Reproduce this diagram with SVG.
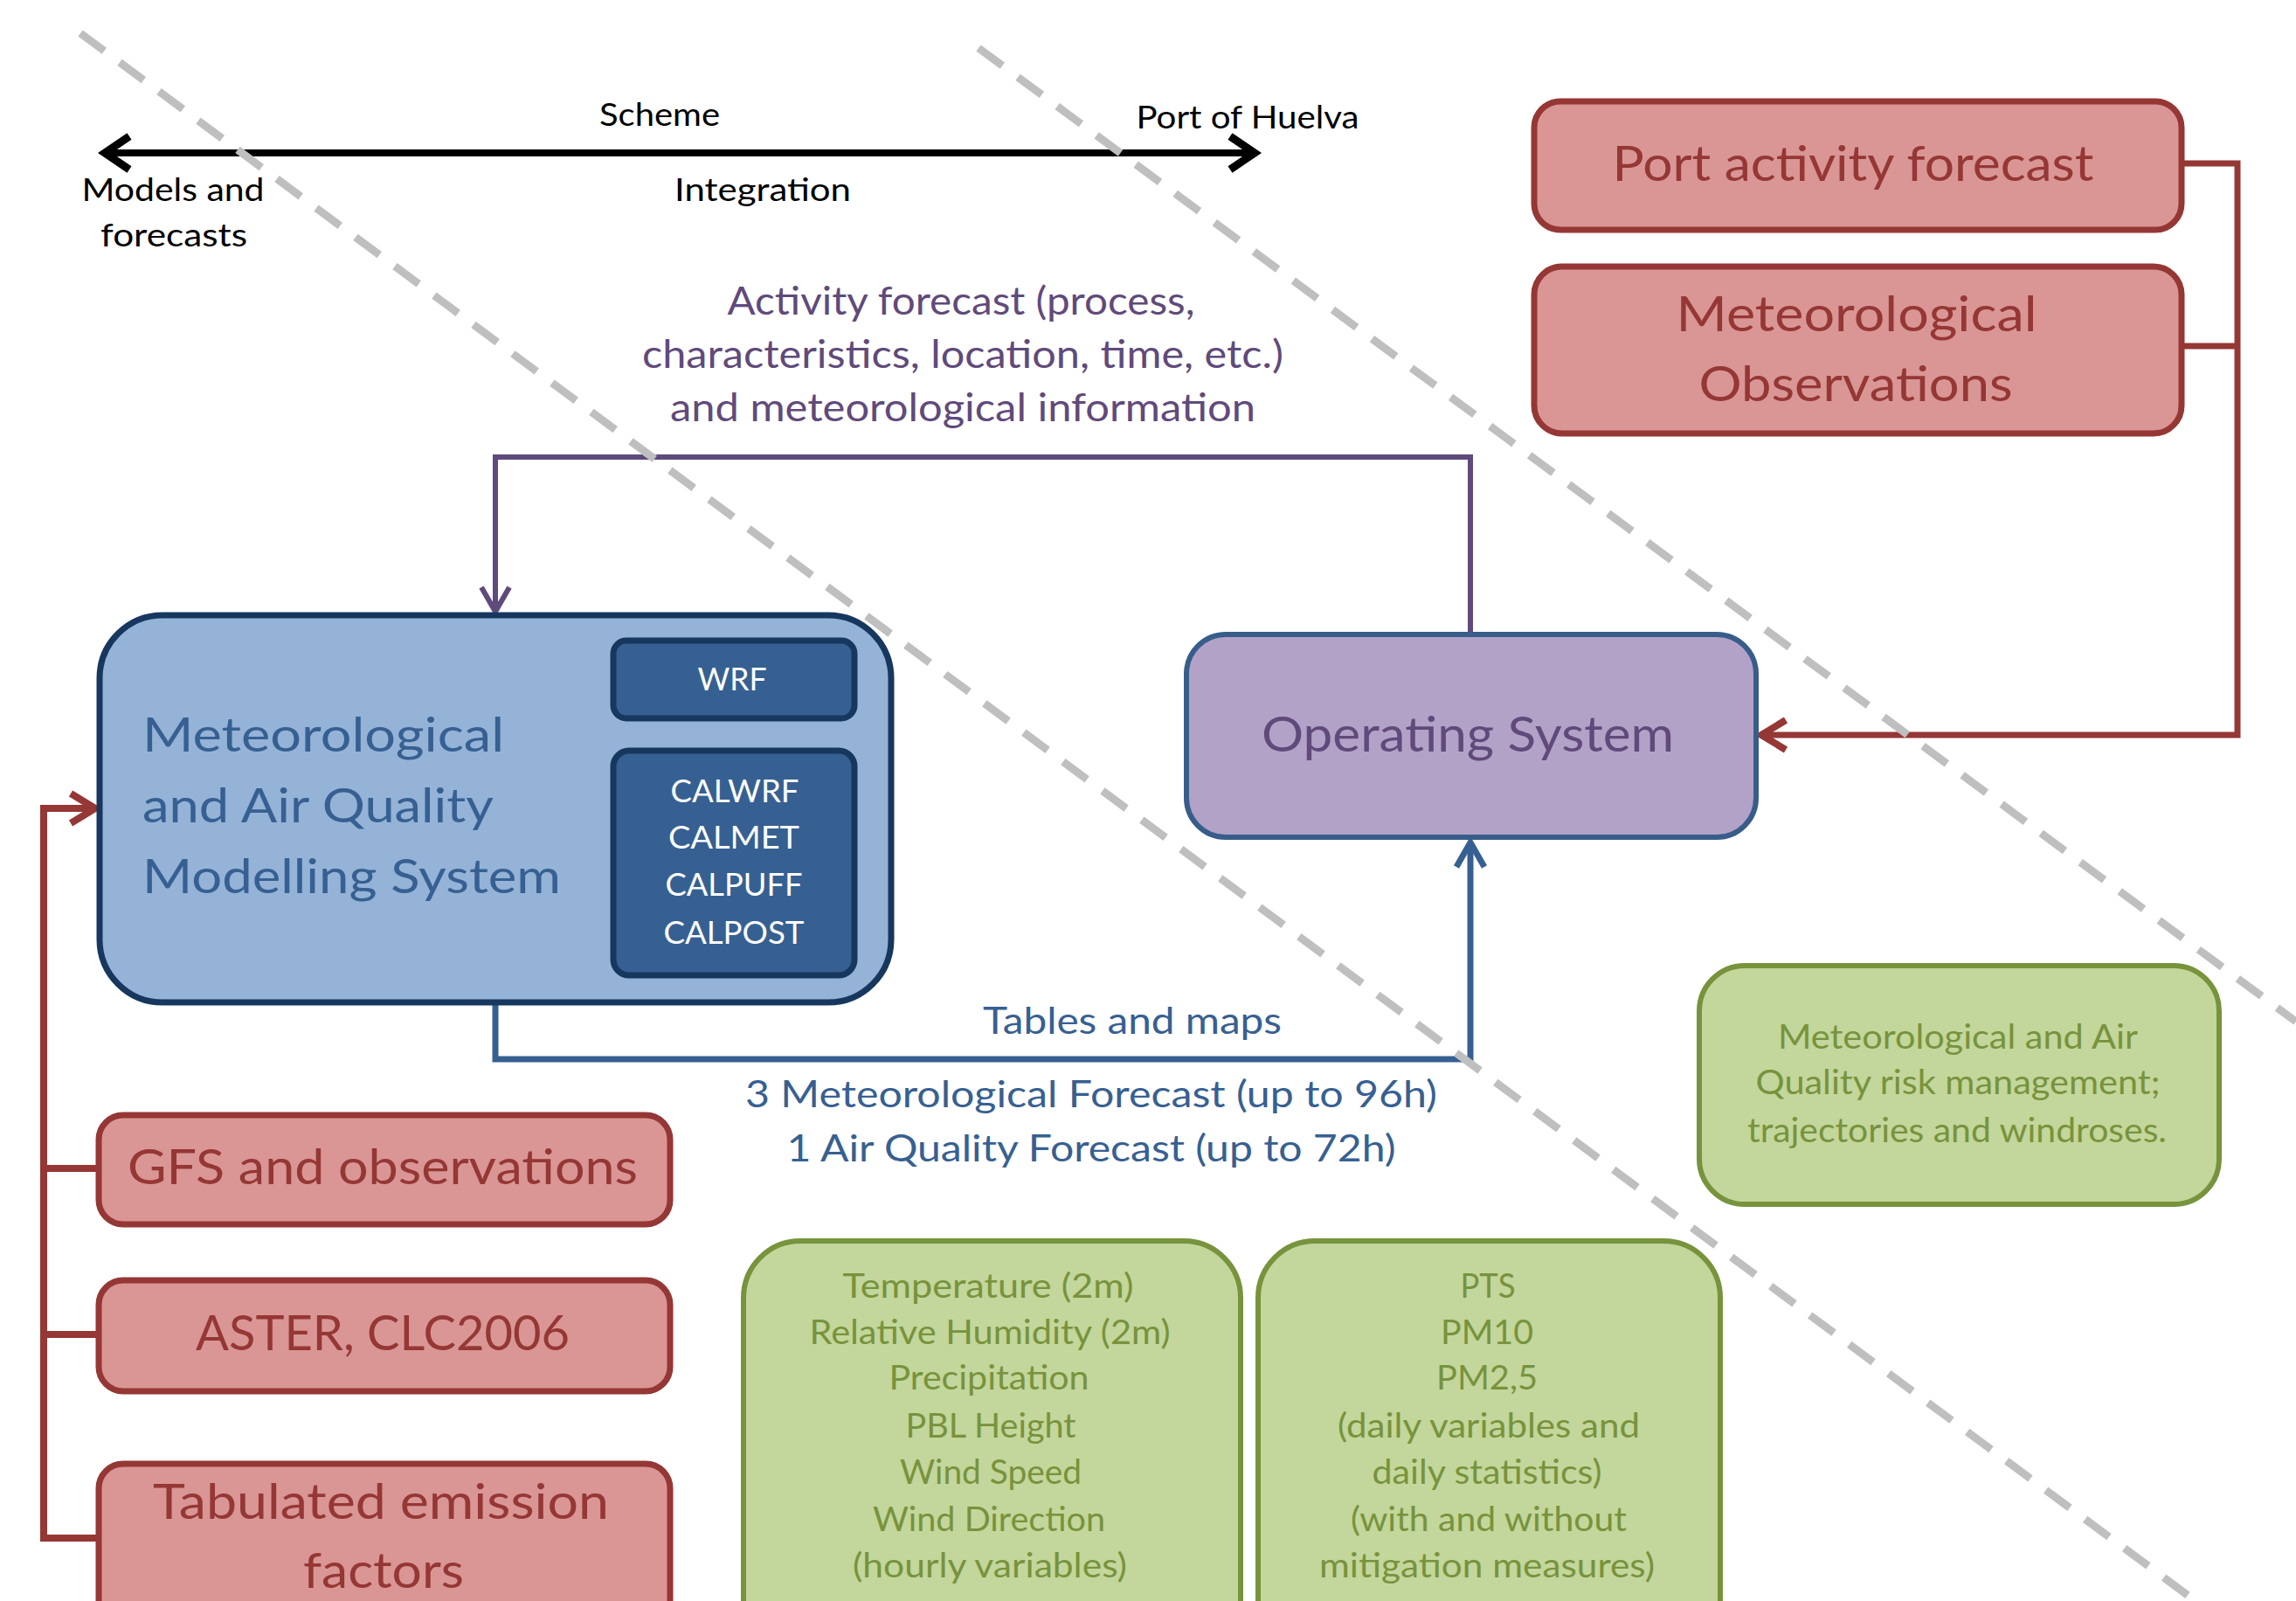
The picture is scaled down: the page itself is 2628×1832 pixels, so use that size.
<svg xmlns="http://www.w3.org/2000/svg" width="2628" height="1832" viewBox="0 0 2628 1832">
<style>
text{font-family:Lato,"Liberation Sans",sans-serif;}
.lbl{fill:#000;font-size:36px;text-anchor:middle;}
.pur{fill:#604a7b;font-size:44px;text-anchor:middle;}
.blu{fill:#376092;font-size:43px;text-anchor:middle;}
.redbox{fill:#d99694;stroke:#953735;stroke-width:7;}
.redtxt{fill:#953735;font-size:56px;text-anchor:middle;}
.grn{fill:#c3d69b;stroke:#77933c;stroke-width:6;}
.grntxt{fill:#77933c;font-size:38px;text-anchor:middle;}
.inner{fill:#366092;stroke:#17375e;stroke-width:7;}
.wtxt{fill:#fff;font-size:36px;text-anchor:middle;}
.dash{stroke:#bfbfbf;stroke-width:9;stroke-dasharray:34 22;fill:none;}
.conn{fill:none;stroke-linejoin:miter;}
</style>
<defs>
<marker id="aRed" markerUnits="userSpaceOnUse" markerWidth="60" markerHeight="60" refX="0" refY="0" viewBox="-40 -30 50 60" orient="auto" overflow="visible">
<path d="M-28,-17 L0,0 L-28,17" fill="none" stroke="#953735" stroke-width="8"/>
</marker>
<marker id="aPur" markerUnits="userSpaceOnUse" markerWidth="60" markerHeight="60" refX="0" refY="0" viewBox="-40 -30 50 60" orient="auto" overflow="visible">
<path d="M-28,-16 L0,0 L-28,16" fill="none" stroke="#604a7b" stroke-width="6"/>
</marker>
<marker id="aBlu" markerUnits="userSpaceOnUse" markerWidth="60" markerHeight="60" refX="0" refY="0" viewBox="-40 -30 50 60" orient="auto" overflow="visible">
<path d="M-28,-16 L0,0 L-28,16" fill="none" stroke="#376092" stroke-width="7"/>
</marker>
<marker id="aBlk" markerUnits="userSpaceOnUse" markerWidth="60" markerHeight="60" refX="0" refY="0" viewBox="-40 -30 50 60" orient="auto-start-reverse" overflow="visible">
<path d="M-28,-19 L0,0 L-28,19" fill="none" stroke="#000" stroke-width="9"/>
</marker>
<marker id="aSm" markerUnits="userSpaceOnUse" markerWidth="30" markerHeight="30" refX="0" refY="0" viewBox="-20 -15 25 30" orient="auto" overflow="visible">
<path d="M-12,-7 L0,0 L-12,7" fill="none" stroke="#17375e" stroke-width="2"/>
</marker>
</defs>
<rect width="2628" height="1832" fill="#fff"/>

<g id="scale">
<line x1="120" y1="175" x2="1436" y2="175" stroke="#000" stroke-width="8" marker-start="url(#aBlk)" marker-end="url(#aBlk)"/>
<text class="lbl" x="755" y="144" textLength="138" lengthAdjust="spacingAndGlyphs">Scheme</text>
<text class="lbl" x="1428" y="147" textLength="255" lengthAdjust="spacingAndGlyphs">Port of Huelva</text>
<text class="lbl" x="198" y="230" textLength="209" lengthAdjust="spacingAndGlyphs">Models and</text>
<text class="lbl" x="199" y="282" textLength="168" lengthAdjust="spacingAndGlyphs">forecasts</text>
<text class="lbl" x="873" y="230" textLength="202" lengthAdjust="spacingAndGlyphs">Integration</text>
</g>

<g id="connectors">
<polyline class="conn" points="1683,726 1683,523 567,523 567,700" stroke="#604a7b" stroke-width="6" marker-end="url(#aPur)"/>
<polyline class="conn" points="567,1148 567,1212 1683,1212 1683,964" stroke="#376092" stroke-width="7" marker-end="url(#aBlu)"/>
<polyline class="conn" points="2498,187 2561,187 2561,841 2016,841" stroke="#953735" stroke-width="7" marker-end="url(#aRed)"/>
<line x1="2498" y1="396" x2="2561" y2="396" stroke="#953735" stroke-width="7"/>
<polyline class="conn" points="112,1760 50,1760 50,925 109,925" stroke="#953735" stroke-width="8" marker-end="url(#aRed)"/>
<line x1="112" y1="1337" x2="50" y2="1337" stroke="#953735" stroke-width="8"/>
<line x1="112" y1="1527" x2="50" y2="1527" stroke="#953735" stroke-width="8"/>
<line x1="838" y1="825" x2="838" y2="855" stroke="#17375e" stroke-width="2" marker-end="url(#aSm)"/>
</g>

<g id="purple-label">
<text class="pur" x="1100" y="360" textLength="535" lengthAdjust="spacingAndGlyphs">Activity forecast (process,</text>
<text class="pur" x="1102" y="421" textLength="734" lengthAdjust="spacingAndGlyphs">characteristics, location, time, etc.)</text>
<text class="pur" x="1102" y="482" textLength="670" lengthAdjust="spacingAndGlyphs">and meteorological information</text>
</g>

<g id="blue-label">
<text class="blu" x="1296" y="1183" textLength="342" lengthAdjust="spacingAndGlyphs">Tables and maps</text>
<text class="blu" x="1249" y="1267" textLength="792" lengthAdjust="spacingAndGlyphs">3 Meteorological Forecast (up to 96h)</text>
<text class="blu" x="1249" y="1329" textLength="697" lengthAdjust="spacingAndGlyphs">1 Air Quality Forecast (up to 72h)</text>
</g>

<g id="maq">
<rect x="114" y="704" width="906" height="443" rx="72" ry="72" fill="#95b3d7" stroke="#17375e" stroke-width="7"/>
<text x="163" y="860" fill="#376092" font-size="54" textLength="414" lengthAdjust="spacingAndGlyphs">Meteorological</text>
<text x="163" y="941" fill="#376092" font-size="54" textLength="402" lengthAdjust="spacingAndGlyphs">and Air Quality</text>
<text x="163" y="1022" fill="#376092" font-size="54" textLength="479" lengthAdjust="spacingAndGlyphs">Modelling System</text>
</g>

<g id="wrf">
<rect class="inner" x="702" y="733" width="276" height="89" rx="15" ry="15"/>
<text class="wtxt" x="838" y="790" textLength="79" lengthAdjust="spacingAndGlyphs">WRF</text>
</g>

<g id="calpuff">
<rect class="inner" x="702" y="859" width="276" height="257" rx="18" ry="18"/>
<text class="wtxt" x="841" y="918" textLength="147" lengthAdjust="spacingAndGlyphs">CALWRF</text>
<text class="wtxt" x="840" y="971" textLength="150" lengthAdjust="spacingAndGlyphs">CALMET</text>
<text class="wtxt" x="840" y="1025" textLength="157" lengthAdjust="spacingAndGlyphs">CALPUFF</text>
<text class="wtxt" x="840" y="1080" textLength="161" lengthAdjust="spacingAndGlyphs">CALPOST</text>
</g>

<g id="operating">
<rect x="1358" y="726" width="652" height="232" rx="45" ry="45" fill="#b3a2c7" stroke="#385d8a" stroke-width="6"/>
<text x="1680" y="860" fill="#604a7b" font-size="56" text-anchor="middle" textLength="472" lengthAdjust="spacingAndGlyphs">Operating System</text>
</g>

<g id="port-activity">
<rect class="redbox" x="1756" y="116" width="741" height="147" rx="30" ry="30"/>
<text class="redtxt" x="2121" y="207" textLength="551" lengthAdjust="spacingAndGlyphs">Port activity forecast</text>
</g>

<g id="met-obs">
<rect class="redbox" x="1756" y="305" width="741" height="191" rx="32" ry="32"/>
<text class="redtxt" x="2125" y="379" textLength="413" lengthAdjust="spacingAndGlyphs">Meteorological</text>
<text class="redtxt" x="2124" y="459" textLength="359" lengthAdjust="spacingAndGlyphs">Observations</text>
</g>

<g id="gfs">
<rect class="redbox" x="113" y="1276" width="654" height="125" rx="28" ry="28"/>
<text class="redtxt" x="438" y="1355" textLength="584" lengthAdjust="spacingAndGlyphs">GFS and observations</text>
</g>

<g id="aster">
<rect class="redbox" x="113" y="1465" width="654" height="127" rx="28" ry="28"/>
<text class="redtxt" x="438" y="1545" textLength="428" lengthAdjust="spacingAndGlyphs">ASTER, CLC2006</text>
</g>

<g id="tabulated">
<rect class="redbox" x="113" y="1675" width="654" height="220" rx="28" ry="28"/>
<text class="redtxt" x="436" y="1738" textLength="522" lengthAdjust="spacingAndGlyphs">Tabulated emission</text>
<text class="redtxt" x="439" y="1817" textLength="184" lengthAdjust="spacingAndGlyphs">factors</text>
</g>

<g id="risk">
<rect class="grn" x="1945" y="1105" width="595" height="273" rx="52" ry="52"/>
<text class="grntxt" x="2241" y="1200" textLength="412" lengthAdjust="spacingAndGlyphs">Meteorological and Air</text>
<text class="grntxt" x="2241" y="1252" textLength="463" lengthAdjust="spacingAndGlyphs">Quality risk management;</text>
<text class="grntxt" x="2240" y="1307" textLength="480" lengthAdjust="spacingAndGlyphs">trajectories and windroses.</text>
</g>

<g id="met-vars">
<rect class="grn" x="851" y="1420" width="569" height="480" rx="65" ry="65"/>
<text class="grntxt" x="1131" y="1485" textLength="333" lengthAdjust="spacingAndGlyphs">Temperature (2m)</text>
<text class="grntxt" x="1133" y="1538" textLength="413" lengthAdjust="spacingAndGlyphs">Relative Humidity (2m)</text>
<text class="grntxt" x="1132" y="1590" textLength="229" lengthAdjust="spacingAndGlyphs">Precipitation</text>
<text class="grntxt" x="1134" y="1645" textLength="195" lengthAdjust="spacingAndGlyphs">PBL Height</text>
<text class="grntxt" x="1134" y="1698" textLength="208" lengthAdjust="spacingAndGlyphs">Wind Speed</text>
<text class="grntxt" x="1132" y="1752" textLength="266" lengthAdjust="spacingAndGlyphs">Wind Direction</text>
<text class="grntxt" x="1133" y="1805" textLength="314" lengthAdjust="spacingAndGlyphs">(hourly variables)</text>
</g>

<g id="aq-vars">
<rect class="grn" x="1440" y="1420" width="529" height="480" rx="65" ry="65"/>
<text class="grntxt" x="1703" y="1485" textLength="63" lengthAdjust="spacingAndGlyphs">PTS</text>
<text class="grntxt" x="1702" y="1538" textLength="106" lengthAdjust="spacingAndGlyphs">PM10</text>
<text class="grntxt" x="1702" y="1590" textLength="116" lengthAdjust="spacingAndGlyphs">PM2,5</text>
<text class="grntxt" x="1704" y="1645" textLength="346" lengthAdjust="spacingAndGlyphs">(daily variables and</text>
<text class="grntxt" x="1702" y="1698" textLength="263" lengthAdjust="spacingAndGlyphs">daily statistics)</text>
<text class="grntxt" x="1704" y="1752" textLength="316" lengthAdjust="spacingAndGlyphs">(with and without</text>
<text class="grntxt" x="1702" y="1805" textLength="384" lengthAdjust="spacingAndGlyphs">mitigation measures)</text>
</g>

<g id="dividers">
<line class="dash" x1="92" y1="38" x2="2513" y2="1832"/>
<line class="dash" x1="1120" y1="55" x2="2628" y2="1169"/>
</g>
</svg>
